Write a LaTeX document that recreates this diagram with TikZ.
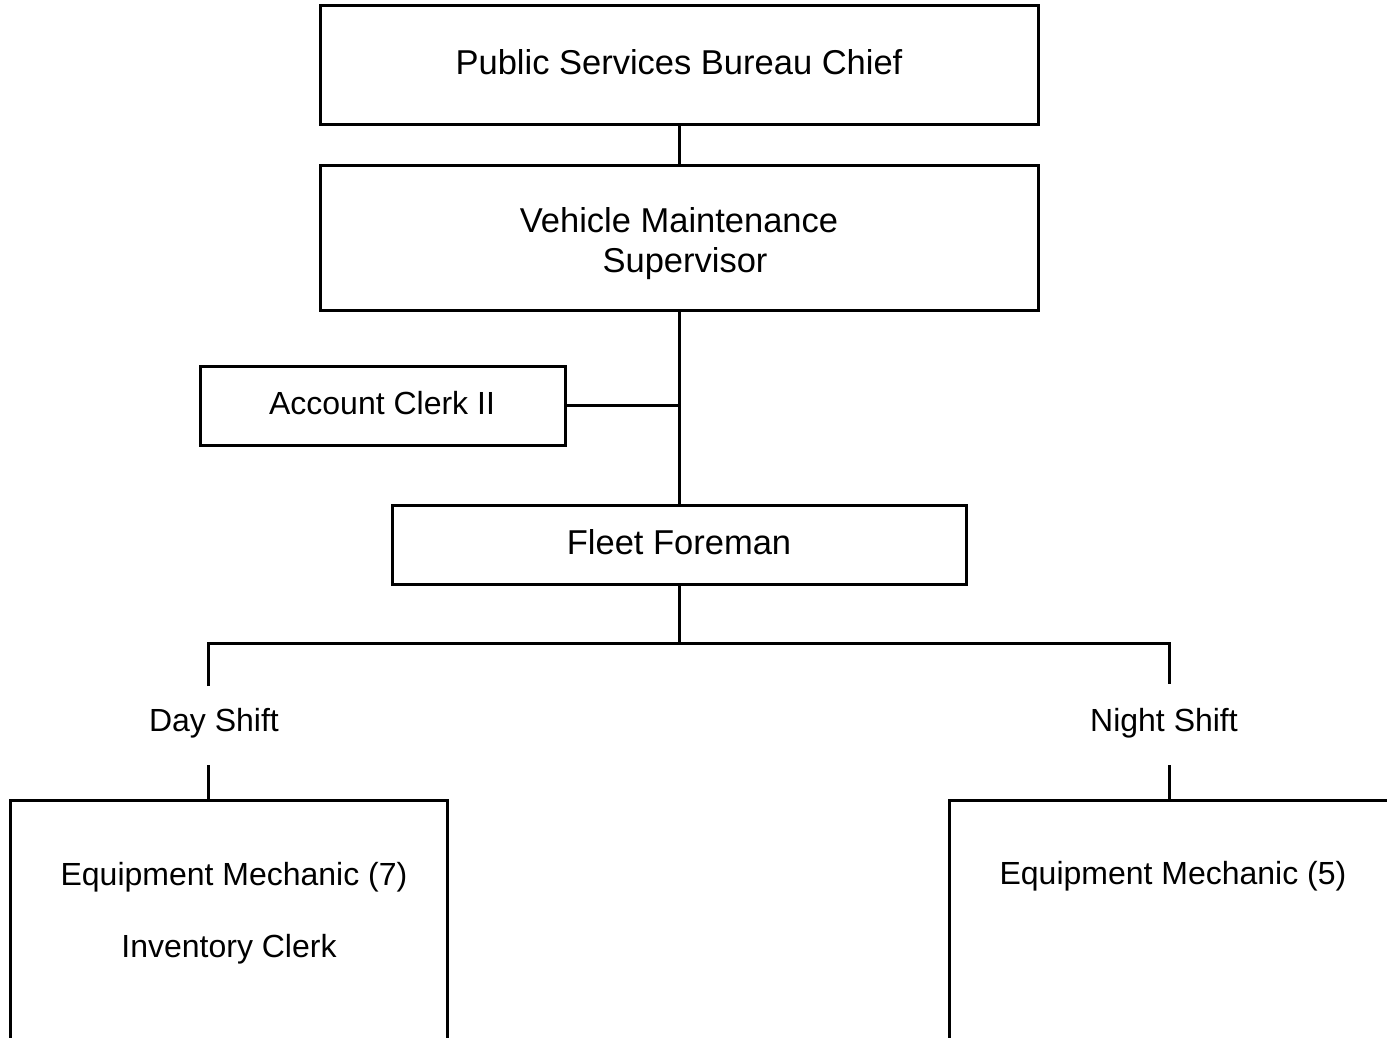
\documentclass[tikz,border=0pt]{standalone}
\usepackage{fontspec}
\setmainfont{Liberation Sans}
\begin{document}
\begin{tikzpicture}[x=1pt,y=-1pt,line width=3pt,line join=miter,
  txt/.style={font=\fontsize{34.5}{40}\selectfont,inner sep=0pt,align=center},
  stxt/.style={font=\fontsize{32}{40}\selectfont,inner sep=0pt,align=center},
  box/.style={draw,inner sep=0pt,minimum width=#1}]
\useasboundingbox (0,0) rectangle (1387,1037);
\node[box=718pt,minimum height=119pt] (chief) at (679,64.5) {};
\node[box=718pt,minimum height=145pt] (sup) at (679,237.5) {};
\node[box=365pt,minimum height=79pt] (acct) at (382.5,405.5) {};
\node[box=574pt,minimum height=79pt] (fleet) at (679,544.5) {};
\node[txt] (chieft) at (679,62.5) {Public Services Bureau Chief};
\node[txt] (supt) at (679,243.5) {Vehicle Maintenance\\ \hspace{0.35em}Supervisor};
\node[stxt] (acctt) at (382,403) {Account Clerk II};
\node[txt] (fleett) at (679,542.5) {Fleet Foreman};
\node[stxt] (day) at (214,723) {Day Shift};
\node[stxt] (night) at (1164,723) {Night Shift};
\node[stxt] (eq7) at (234,877) {Equipment Mechanic (7)};
\node[stxt] (inv) at (229,949) {Inventory Clerk};
\node[stxt] (eq5) at (1173,876) {Equipment Mechanic (5)};
\coordinate (bus) at (679,643);
\coordinate (dl) at (208,643);
\coordinate (nl) at (1169,643);
\coordinate (dla) at (208,686);
\coordinate (nla) at (1169,684);
\coordinate (dlb) at (208,765);
\coordinate (nlb) at (1169,765);
\coordinate (dtop) at (208,800);
\coordinate (ntop) at (1169,800);
\coordinate (joint) at (sup.south |- acct.east);
\draw (chief.south) -- (sup.north);
\draw (sup.south) -- (fleet.north);
\draw (acct.east) -- (joint);
\draw (fleet.south) -- (bus);
\draw (dla) -- (dl) -- (nl) -- (nla);
\draw (dlb) -- (dtop);
\draw (nlb) -- (ntop);
\draw (10,1045) -- (10,800) -- (447,800) -- (447,1045);
\draw (949,1045) -- (949,800) -- (1395,800);
\end{tikzpicture}
\end{document}
